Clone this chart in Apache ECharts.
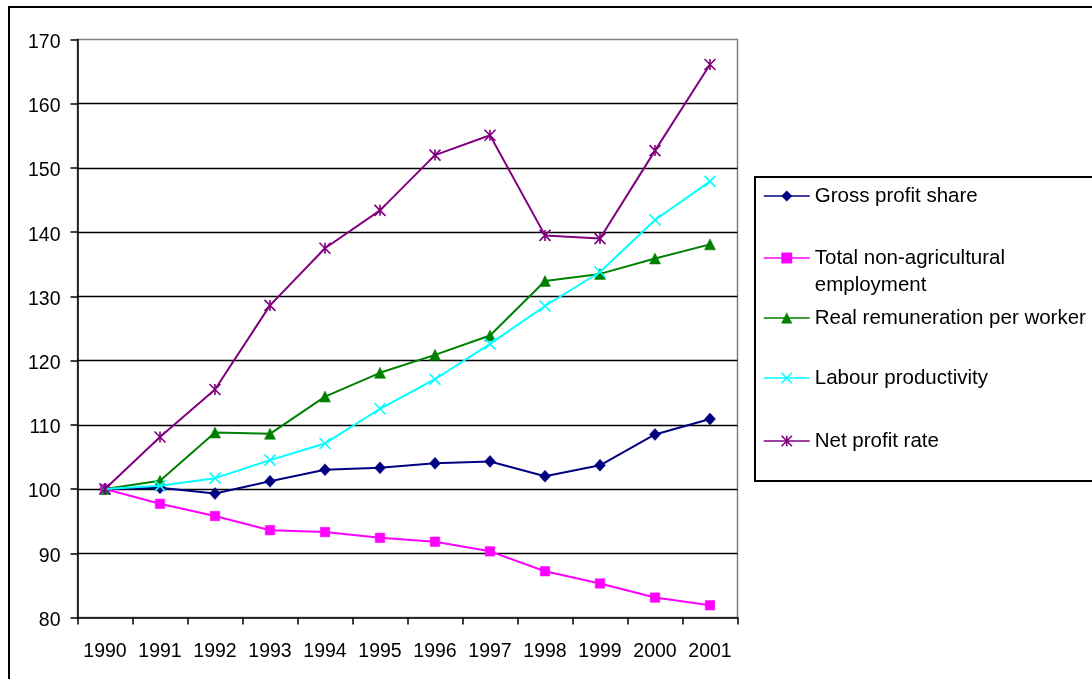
<!DOCTYPE html>
<html><head><meta charset="utf-8">
<script src="https://cdn.jsdelivr.net/npm/echarts@6/dist/echarts.min.js"></script>
<style>html,body{margin:0;padding:0;background:#fff}#c{width:1092px;height:679px}</style>
</head><body><div id="c"></div>
<script>
// ---- data ----
const years = ['1990','1991','1992','1993','1994','1995','1996','1997','1998','1999','2000','2001'];
const grossProfitShare = [100, 100.2, 99.3, 101.2, 103.0, 103.3, 104.0, 104.3, 102.0, 103.7, 108.5, 110.9];
const employment       = [100, 97.7, 95.8, 93.6, 93.3, 92.4, 91.8, 90.3, 87.2, 85.3, 83.1, 81.9];
const remuneration     = [100, 101.3, 108.8, 108.6, 114.4, 118.1, 120.9, 123.9, 132.4, 133.5, 135.9, 138.1];
const productivity     = [100, 100.5, 101.7, 104.5, 107.1, 112.5, 117.1, 122.6, 128.5, 133.8, 141.9, 147.9];
const netProfitRate    = [100, 108.1, 115.5, 128.6, 137.5, 143.4, 152.0, 155.1, 139.5, 139.0, 152.7, 166.1];
const seriesNames = ['Gross profit share', 'Total non-agricultural employment', 'Real remuneration per worker', 'Labour productivity', 'Net profit rate'];
const yMin = 80, yMax = 170, yInterval = 10;

// ---- styling ----
const FONT = '"Liberation Sans", Arial, sans-serif';
const colors = ['#000080', '#FF00FF', '#008000', '#00FFFF', '#800080'];
const symbols = ['diamond', 'rect', 'triangle', 'path://M0,0L10,10M10,0L0,10', 'path://M0,0L10,10M10,0L0,10M5,0L5,10'];
const symbolSizes = [[11, 12], 9.5, 11, 11, 11];
const strokeOnly = [false, false, false, true, true];
const values = [grossProfitShare, employment, remuneration, productivity, netProfitRate];

function itemStyleFor(i) {
  return strokeOnly[i]
    ? { color: colors[i], borderColor: colors[i], borderWidth: 1.6 }
    : { color: colors[i], borderColor: colors[i], borderWidth: 0.5 };
}

const series = seriesNames.map((name, i) => ({
  name: name,
  type: 'line',
  data: values[i],
  symbol: symbols[i],
  symbolSize: symbolSizes[i],
  showAllSymbol: true,
  lineStyle: { color: colors[i], width: 2 },
  itemStyle: itemStyleFor(i),
  emphasis: { disabled: true },
  z: 3 + i
}));

const legendCenters = [196, 258, 318, 378, 441];
const legends = seriesNames.map((name, i) => {
  const twoLine = i === 1;
  const lh = twoLine ? 27 : 24;
  const blockH = twoLine ? lh * 3 : lh;
  return {
    data: [{ name: name, itemStyle: itemStyleFor(i), lineStyle: { color: colors[i], width: 1.5 } }],
    left: 763,
    top: legendCenters[i] - blockH / 2,
    orient: 'vertical',
    padding: 0,
    itemWidth: 46,
    itemHeight: 13,
    selectedMode: false,
    formatter: twoLine ? function () { return '\nTotal non-agricultural\nemployment'; } : '{name}',
    textStyle: { fontSize: 20.5, fontFamily: FONT, color: '#000', lineHeight: lh }
  };
});

const chart = echarts.init(document.getElementById('c'), null, { renderer: 'canvas' });
chart.setOption({
  animation: false,
  backgroundColor: '#fff',
  textStyle: { fontFamily: FONT },
  graphic: [
    { type: 'rect', shape: { x: 9, y: 7, width: 1300, height: 900 }, style: { fill: 'none', stroke: '#000', lineWidth: 2 }, silent: true },
    { type: 'rect', shape: { x: 755, y: 177, width: 500, height: 304 }, style: { fill: 'none', stroke: '#000', lineWidth: 2 }, silent: true }
  ],
  grid: { left: 77.5, top: 39.5, width: 660, height: 578, show: true, borderColor: '#808080', borderWidth: 1.5, backgroundColor: 'transparent' },
  legend: legends,
  xAxis: {
    type: 'category',
    data: years,
    boundaryGap: true,
    axisLine: { show: true, lineStyle: { color: '#000', width: 1.5 } },
    axisTick: { show: true, length: 7, interval: 0, lineStyle: { color: '#000', width: 1.5 } },
    axisLabel: { interval: 0, margin: 24, fontSize: 19.5, lineHeight: 20, color: '#000', fontFamily: FONT },
    splitLine: { show: false }
  },
  yAxis: {
    type: 'value',
    min: yMin, max: yMax, interval: yInterval,
    axisLine: { show: true, lineStyle: { color: '#000', width: 1.5 } },
    axisTick: { show: true, length: 7, lineStyle: { color: '#000', width: 1.5 } },
    axisLabel: { margin: 17, fontSize: 19.5, color: '#000', fontFamily: FONT, verticalAlign: 'top', lineHeight: 6 },
    splitLine: { show: true, showMaxLine: false, showMinLine: false, lineStyle: { color: '#000', width: 1.3 } }
  },
  series: series
});
</script>
</body></html>
